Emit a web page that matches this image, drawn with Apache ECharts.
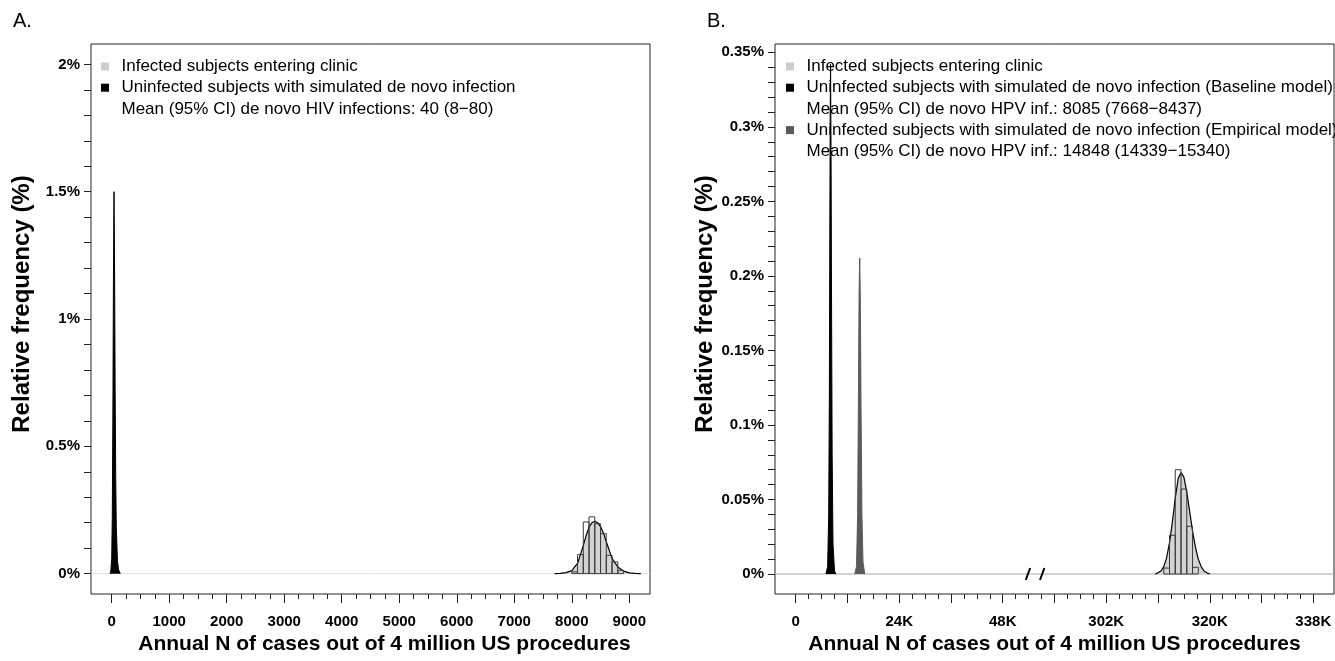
<!DOCTYPE html>
<html><head><meta charset="utf-8">
<script src="https://cdn.jsdelivr.net/npm/echarts@6/dist/echarts.min.js"></script>
<style>html,body{margin:0;padding:0;background:#fff}#c{width:1335px;height:661px}</style>
</head><body><div id="c"></div>
<script>
// ================= DATA =================
// Panel A
const spikeA_x = [-30, -15, 0, 10, 20, 30, 40, 50, 60, 70, 80, 100, 120, 150];
const spikeA_y = [0, 0.01, 0.06, 0.22, 0.6, 1.15, 1.5, 1.2, 0.72, 0.38, 0.18, 0.05, 0.015, 0];
const histA_start = [8000, 8100, 8200, 8300, 8400, 8500, 8600, 8700, 8800];
const histA_height = [0.007, 0.075, 0.203, 0.223, 0.196, 0.157, 0.072, 0.046, 0.013];
const histA_binWidth = 100;
const curveA_x = [7700, 7800, 7900, 8000, 8100, 8200, 8250, 8300, 8350, 8400, 8450, 8500, 8550, 8600, 8700, 8800, 8900, 9000, 9100, 9200];
const curveA_y = [0, 0.001, 0.004, 0.012, 0.04, 0.11, 0.15, 0.182, 0.2, 0.206, 0.2, 0.185, 0.16, 0.125, 0.06, 0.026, 0.01, 0.003, 0.001, 0];
const xTicksA = [0, 1000, 2000, 3000, 4000, 5000, 6000, 7000, 8000, 9000];
const xLabelsA = ['0', '1000', '2000', '3000', '4000', '5000', '6000', '7000', '8000', '9000'];
const yTicksA = [0, 0.5, 1, 1.5, 2];
const yLabelsA = ['0%', '0.5%', '1%', '1.5%', '2%'];

// Panel B
const spikeBase_x = [7000, 7400, 7650, 7800, 7900, 8000, 8085, 8200, 8300, 8450, 8650, 9000, 9300];
const spikeBase_y = [0, 0.005, 0.04, 0.12, 0.22, 0.31, 0.342, 0.28, 0.19, 0.08, 0.02, 0.002, 0];
const spikeEmp_x = [13700, 14100, 14350, 14550, 14700, 14848, 15000, 15150, 15350, 15600, 16000];
const spikeEmp_y = [0, 0.005, 0.04, 0.12, 0.19, 0.212, 0.18, 0.11, 0.04, 0.008, 0];
const histB_start = [312000, 313000, 314000, 315000, 316000, 317000];
const histB_height = [0.004, 0.026, 0.070, 0.057, 0.032, 0.0045];
const histB_binWidth = 1000;
const curveB_x = [310500, 311000, 311500, 312000, 312500, 313000, 313500, 314000, 314500, 315000, 315500, 316000, 316500, 317000, 317500, 318000, 318500, 319000, 319500, 320000];
const curveB_y = [0, 0.0008, 0.002, 0.005, 0.011, 0.021, 0.035, 0.051, 0.064, 0.068, 0.065, 0.055, 0.042, 0.029, 0.018, 0.01, 0.005, 0.002, 0.0008, 0];
const xTickValsB = [0, 24000, 48000, 302000, 320000, 338000];
const xLabelsB = ['0', '24K', '48K', '302K', '320K', '338K'];
const yTicksB = [0, 0.05, 0.1, 0.15, 0.2, 0.25, 0.3, 0.35];
const yLabelsB = ['0%', '0.05%', '0.1%', '0.15%', '0.2%', '0.25%', '0.3%', '0.35%'];

const nameInfected = 'Infected subjects entering clinic';
const nameUninfA = 'Uninfected subjects with simulated de novo infection';
const meanA = 'Mean (95% CI) de novo HIV infections: 40 (8\u221280)';
const nameBase = 'Uninfected subjects with simulated de novo infection (Baseline model)';
const meanBase = 'Mean (95% CI) de novo HPV inf.: 8085 (7668\u22128437)';
const nameEmp = 'Uninfected subjects with simulated de novo infection (Empirical model)';
const meanEmp = 'Mean (95% CI) de novo HPV inf.: 14848 (14339\u221215340)';

// ================= LAYOUT / HELPERS =================
const FONT = '"Liberation Sans", Arial, Helvetica, sans-serif';
function seq(a, b, s) { const r = []; const n = Math.round((b - a) / s); for (let i = 0; i <= n; i++) r.push(+(a + i * s).toFixed(6)); return r; }
function lookup(vals, labels) { return v => { for (let i = 0; i < vals.length; i++) if (Math.abs(vals[i] - v) < 1e-9) return labels[i]; return ''; }; }
function zip(xs, ys) { return xs.map((x, i) => [x, ys[i]]); }

// broken axis for panel B: display units (1 unit = 1000 below break, 750 above)
const toDisplayB = v => v < 100000 ? v / 1000 : 72 + (v - 302000) / 750;
const dMinB = -4.8, dMaxB = 124.8, dBreakB = 55.5;
const xTickDispB = xTickValsB.map(toDisplayB);
const fromDisplayLow = d => d * 1000;
const fromDisplayHigh = d => 302000 + (d - 72) * 750;

const boxA = {left: 91, top: 44, width: 559, height: 550};
const boxB = {left: 775, top: 44, width: 559, height: 550};
const breakPx = boxB.left + (dBreakB - dMinB) / (dMaxB - dMinB) * boxB.width;

const yRangeA = [-0.08, 2.08];
const yRangeB = [-0.0134, 0.3556];

const tickStyle = {color: '#222', width: 1};
const lblStyle = {color: '#000', fontWeight: 'bold', fontSize: 15, fontFamily: FONT};
const nameStyle = {color: '#000', fontWeight: 'bold', fontSize: 21, fontFamily: FONT};
const yNameStyle = {color: '#000', fontWeight: 'bold', fontSize: 24, fontFamily: FONT, padding: [0, 0, 0, 30]};
const noLine = {show: false, onZero: false};
const legendText = {fontSize: 17, color: '#000', fontFamily: FONT, lineHeight: 17};

function histRender(params, api) {
  const x0 = api.value(0), w = api.value(1), h = api.value(2);
  const p0 = api.coord([x0, h]);
  const p1 = api.coord([x0 + w, 0]);
  return {type: 'rect', shape: {x: p0[0], y: p0[1], width: p1[0] - p0[0], height: p1[1] - p0[1]},
    style: {fill: 'none', stroke: '#3a3a3a', lineWidth: 1}};
}

const option = {
  animation: false,
  backgroundColor: '#fff',
  title: [
    {text: 'A.', left: 8, top: 6, textStyle: {fontSize: 20, fontWeight: 'normal', color: '#000', fontFamily: FONT}},
    {text: 'B.', left: 702, top: 6, textStyle: {fontSize: 20, fontWeight: 'normal', color: '#000', fontFamily: FONT}}
  ],
  legend: [
    {orient: 'vertical', left: 96, top: 53, itemWidth: 23, itemHeight: 8, itemGap: 4.2,
      icon: 'path://M0,0H10V10H0Z', selectedMode: false, textStyle: legendText,
      data: [
        {name: nameInfected, itemStyle: {color: '#cdcdcd', borderWidth: 0}},
        {name: nameUninfA, itemStyle: {color: '#000', borderWidth: 0}},
        {name: meanA, itemStyle: {color: 'rgba(0,0,0,0)', borderWidth: 0}}
      ]},
    {orient: 'vertical', left: 781, top: 53, itemWidth: 23, itemHeight: 8, itemGap: 4.2,
      icon: 'path://M0,0H10V10H0Z', selectedMode: false, textStyle: legendText,
      data: [
        {name: nameInfected, itemStyle: {color: '#cdcdcd', borderWidth: 0}},
        {name: nameBase, itemStyle: {color: '#000', borderWidth: 0}},
        {name: meanBase, itemStyle: {color: 'rgba(0,0,0,0)', borderWidth: 0}},
        {name: nameEmp, itemStyle: {color: '#5a5a5a', borderWidth: 0}},
        {name: meanEmp, itemStyle: {color: 'rgba(0,0,0,0)', borderWidth: 0}}
      ]}
  ],
  grid: [
    Object.assign({show: true, borderColor: '#222', borderWidth: 1, backgroundColor: '#fff'}, boxA),
    Object.assign({show: true, borderColor: '#222', borderWidth: 1, backgroundColor: '#fff'}, boxB),
    {left: boxB.left, top: boxB.top, width: breakPx - boxB.left, height: boxB.height},
    {left: breakPx, top: boxB.top, width: boxB.left + boxB.width - breakPx, height: boxB.height}
  ],
  xAxis: [
    {type: 'value', gridIndex: 0, min: -360, max: 9360, position: 'bottom',
      axisLine: noLine, splitLine: {show: false},
      axisTick: {show: true, customValues: xTicksA, length: 9, lineStyle: tickStyle},
      axisLabel: Object.assign({customValues: xTicksA, formatter: lookup(xTicksA, xLabelsA), margin: 20}, lblStyle),
      name: 'Annual N of cases out of 4 million US procedures', nameLocation: 'middle', nameGap: 36,
      nameTextStyle: Object.assign({padding: [0, 0, 0, 28]}, nameStyle)},
    {type: 'value', gridIndex: 0, min: -360, max: 9360, position: 'bottom',
      axisLine: noLine, splitLine: {show: false},
      axisTick: {show: true, customValues: seq(0, 9000, 250), length: 5, lineStyle: tickStyle},
      axisLabel: {show: false}},
    {type: 'value', gridIndex: 1, min: dMinB, max: dMaxB, position: 'bottom',
      axisLine: noLine, splitLine: {show: false},
      axisTick: {show: true, customValues: seq(0, 120, 12), length: 9, lineStyle: tickStyle},
      axisLabel: Object.assign({customValues: xTickDispB, formatter: lookup(xTickDispB, xLabelsB), margin: 20}, lblStyle),
      name: 'Annual N of cases out of 4 million US procedures', nameLocation: 'middle', nameGap: 36,
      nameTextStyle: nameStyle},
    {type: 'value', gridIndex: 1, min: dMinB, max: dMaxB, position: 'bottom',
      axisLine: noLine, splitLine: {show: false},
      axisTick: {show: true, customValues: seq(0, 120, 3), length: 5, lineStyle: tickStyle},
      axisLabel: {show: false}},
    {type: 'value', gridIndex: 2, min: fromDisplayLow(dMinB), max: fromDisplayLow(dBreakB), show: false},
    {type: 'value', gridIndex: 3, min: fromDisplayHigh(dBreakB), max: fromDisplayHigh(dMaxB), show: false}
  ],
  yAxis: [
    {type: 'value', gridIndex: 0, min: yRangeA[0], max: yRangeA[1], position: 'left',
      axisLine: noLine, splitLine: {show: false},
      axisTick: {show: true, customValues: seq(0, 2, 0.1), length: 7, lineStyle: tickStyle},
      axisLabel: Object.assign({customValues: yTicksA, formatter: lookup(yTicksA, yLabelsA), margin: 11}, lblStyle),
      name: 'Relative frequency (%)', nameLocation: 'middle', nameGap: 57, nameRotate: 90, nameTextStyle: yNameStyle},
    {type: 'value', gridIndex: 1, min: yRangeB[0], max: yRangeB[1], position: 'left',
      axisLine: noLine, splitLine: {show: false},
      axisTick: {show: true, customValues: seq(0, 0.35, 0.01), length: 7, lineStyle: tickStyle},
      axisLabel: Object.assign({customValues: yTicksB, formatter: lookup(yTicksB, yLabelsB), margin: 11}, lblStyle),
      name: 'Relative frequency (%)', nameLocation: 'middle', nameGap: 57, nameRotate: 90, nameTextStyle: yNameStyle},
    {type: 'value', gridIndex: 2, min: yRangeB[0], max: yRangeB[1], show: false},
    {type: 'value', gridIndex: 3, min: yRangeB[0], max: yRangeB[1], show: false}
  ],
  series: [
    // ---- Panel A ----
    {type: 'line', name: '_baseA', xAxisIndex: 0, yAxisIndex: 0, data: [[-360, 0], [9360, 0]], symbol: 'none', silent: true,
      lineStyle: {color: '#e2e2e2', width: 1}, z: 1},
    {type: 'line', name: nameInfected, xAxisIndex: 0, yAxisIndex: 0, data: zip(curveA_x, curveA_y), symbol: 'none',
      color: '#cdcdcd', lineStyle: {color: '#000', width: 1.2}, areaStyle: {color: '#d3d3d3', opacity: 1}, z: 2},
    {type: 'custom', name: nameInfected, xAxisIndex: 0, yAxisIndex: 0, renderItem: histRender,
      encode: {x: [0], y: [2]}, data: histA_start.map((s, i) => [s, histA_binWidth, histA_height[i]]), z: 3},
    {type: 'line', name: nameUninfA, xAxisIndex: 0, yAxisIndex: 0, data: zip(spikeA_x, spikeA_y), symbol: 'none',
      color: '#000', lineStyle: {color: '#000', width: 1}, areaStyle: {color: '#000', opacity: 1}, z: 3},
    {type: 'line', name: meanA, xAxisIndex: 0, yAxisIndex: 0, data: [], color: 'rgba(0,0,0,0)'},
    // ---- Panel B ----
    {type: 'line', name: '_baseB', xAxisIndex: 2, yAxisIndex: 1, data: [[dMinB, 0], [dMaxB, 0]], symbol: 'none', silent: true,
      lineStyle: {color: '#a8a8a8', width: 1}, z: 1},
    {type: 'custom', name: '_breakB', xAxisIndex: 2, yAxisIndex: 1, silent: true, z: 5,
      data: [[dBreakB - 1.65], [dBreakB + 1.65]],
      renderItem: (p, api) => { const c = api.coord([api.value(0), 0]);
        return {type: 'line', shape: {x1: c[0] - 2.2, y1: c[1] + 6, x2: c[0] + 2.2, y2: c[1] - 6}, style: {stroke: '#000', lineWidth: 2}}; }},
    {type: 'line', name: nameBase, xAxisIndex: 4, yAxisIndex: 2, data: zip(spikeBase_x, spikeBase_y), symbol: 'none',
      color: '#000', lineStyle: {color: '#000', width: 1}, areaStyle: {color: '#000', opacity: 1}, z: 3},
    {type: 'line', name: nameEmp, xAxisIndex: 4, yAxisIndex: 2, data: zip(spikeEmp_x, spikeEmp_y), symbol: 'none',
      color: '#5a5a5a', lineStyle: {color: '#5a5a5a', width: 1}, areaStyle: {color: '#5a5a5a', opacity: 1}, z: 3},
    {type: 'line', name: nameInfected, xAxisIndex: 5, yAxisIndex: 3, data: zip(curveB_x, curveB_y), symbol: 'none',
      color: '#cdcdcd', lineStyle: {color: '#000', width: 1.2}, areaStyle: {color: '#d3d3d3', opacity: 1}, z: 2},
    {type: 'custom', name: nameInfected, xAxisIndex: 5, yAxisIndex: 3, renderItem: histRender,
      encode: {x: [0], y: [2]}, data: histB_start.map((s, i) => [s, histB_binWidth, histB_height[i]]), z: 3},
    {type: 'line', name: meanBase, xAxisIndex: 4, yAxisIndex: 2, data: [], color: 'rgba(0,0,0,0)'},
    {type: 'line', name: meanEmp, xAxisIndex: 4, yAxisIndex: 2, data: [], color: 'rgba(0,0,0,0)'}
  ]
};
const chart = echarts.init(document.getElementById('c'), null, {renderer: 'canvas'});
chart.setOption(option);
</script></body></html>
